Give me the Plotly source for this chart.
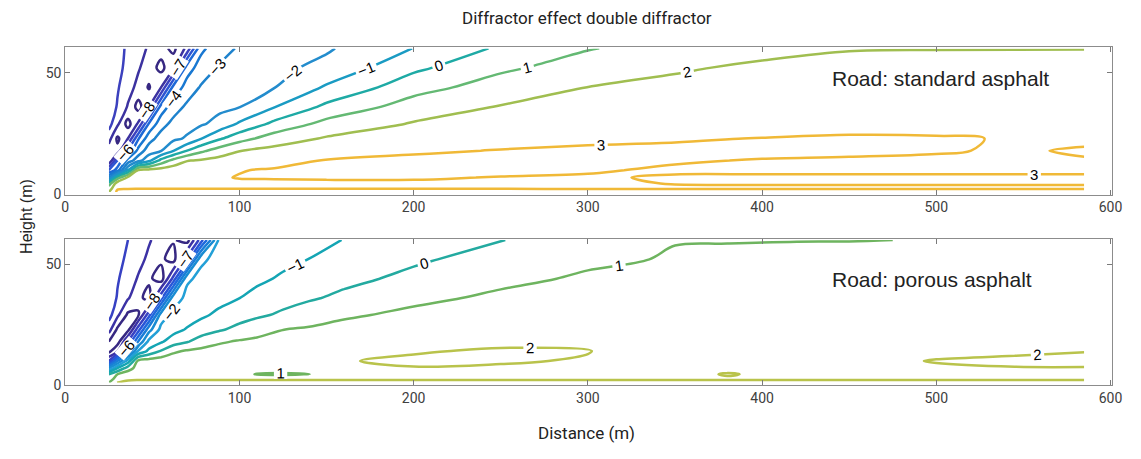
import plotly.graph_objects as go

# ---------------- data ----------------
Y_ROWS = [1, 2.5, 4.5, 7, 10, 14, 18, 23, 29, 36, 44, 52, 60]

# Top panel: Road: standard asphalt
X_TOP = [25, 30, 36, 42, 48, 55, 62, 70, 78, 88, 100, 120, 150, 200, 250, 300, 350, 400, 450, 500, 545, 585]
Z_TOP_1 = [2.0, 3.2] + [3.25] * 20
Z_TOP_2 = [1.5, 2.9, 2.96] + [2.97] * 12 + [2.96] + [2.95] * 6
Z_TOP_3 = [0.5, 2.6, 2.85, 2.9] + [2.92] * 11 + [2.95, 3.01] + [3.02] * 5
Z_TOP_4 = [-3, 0.5, 2.2, 2.4, 2.55, 2.65, 2.72, 2.8, 2.86, 2.96, 3.02, 3.03, 3.05, 3.05, 2.98, 2.95, 3.05, 3.06, 3.06, 3.06, 3.06, 3.06]
Z_TOP_5 = [-6, -4.5, -1, 2.1, 2.3, 2.45, 2.55, 2.65, 2.72, 2.85, 2.98, 3.05, 3.12, 3.15, 3.12, 3.05, 2.93, 2.92, 2.92, 2.92, 2.92, 2.92]
Z_TOP_6 = [-9.0, -6.0, -3.6, -2.39, -1.32, 0.3, 1.3, 1.95, 2.1, 2.3, 2.45, 2.8, 3.03, 3.15, 3.2, 3.2, 3.05, 2.97, 2.93, 2.92, 2.93, 2.97]
Z_TOP_7 = [-8.5, -8.7, -5.8, -3.6, -2.49, -2.05, -1.04, 0.02, 0.78, 1.43, 1.97, 2.3, 2.65, 2.9, 3.03, 3.12, 3.15, 3.15, 3.12, 3.04, 2.95, 3.05]
Z_TOP_8 = [-7.6, -9.2, -8.0, -5.1, -3.4, -2.57, -2.22, -1.87, -1.05, -0.17, 0.62, 1.48, 2.1, 2.55, 2.75, 2.85, 2.93, 3.02, 3.1, 3.08, 2.95, 2.9]
Z_TOP_9 = [-6.6, -7.8, -9.4, -7.8, -4.9, -3.4, -2.7, -2.35, -2.13, -1.69, -0.86, 0.25, 1.32, 2.08, 2.24, 2.35, 2.42, 2.6, 2.7, 2.65, 2.6, 2.55]
Z_TOP_10 = [-6.3, -7.1, -8.1, -9.4, -8.0, -4.6, -3.5, -2.79, -2.49, -2.24, -2.03, -1.04, 0.23, 1.47, 2.05, 2.19, 2.29, 2.36, 2.41, 2.45, 2.48, 2.5]
Z_TOP_11 = [-6.2, -6.9, -7.6, -8.3, -9.1, -8.0, -4.7, -3.6, -2.9, -2.57, -2.31, -2.03, -0.87, 0.61, 1.48, 2.01, 2.13, 2.22, 2.29, 2.35, 2.39, 2.42]
Z_TOP_12 = [-6.1, -6.7, -7.3, -7.9, -8.5, -9.3, -8.2, -4.4, -3.6, -2.91, -2.59, -2.24, -1.74, -0.21, 0.81, 1.48, 1.94, 2.09, 2.18, 2.24, 2.29, 2.33]
Z_TOP_13 = [-6.0, -6.6, -7.2, -7.7, -8.1, -8.6, -9.3, -7.7, -4.2, -3.5, -2.86, -2.46, -2.11, -0.98, 0.16, 0.94, 1.4, 1.85, 1.97, 1.98, 1.98, 1.98]

# Bottom panel: Road: porous asphalt
X_BOT = [25, 30, 36, 42, 48, 55, 62, 70, 78, 88, 100, 110, 125, 140, 160, 200, 250, 300, 350, 380, 420, 450, 500, 545, 585]
Z_BOT_1 = [1.0, 2.05] + [2.15] * 23
Z_BOT_2 = [0.5, 1.5, 1.9] + [1.95] * 22
Z_BOT_3 = [0, 1.0, 1.6, 1.75, 1.8, 1.82, 1.84, 1.85, 1.85, 1.8, 1.3, 0.95, 0.85, 0.97, 1.5, 1.85, 1.85, 1.85, 1.85, 2.03, 1.86, 1.87, 1.9, 1.92, 1.93]
Z_BOT_4 = [-3, -1, 0.5, 1.5, 1.6, 1.65, 1.7, 1.72, 1.72, 1.72, 1.7, 1.65, 1.6, 1.65, 1.8, 1.97, 1.92, 1.85, 1.85, 1.9, 1.88, 1.88, 1.95, 1.98, 1.98]
Z_BOT_5 = [-7.0, -4, -1.5, 1.3, 1.45, 1.55, 1.6, 1.65, 1.68, 1.7, 1.7, 1.7, 1.72, 1.78, 1.97, 2.1, 2.06, 1.95, 1.85, 1.85, 1.86, 1.88, 2.02, 2.08, 2.1]
Z_BOT_6 = [-9.3, -8.0, -5.0, -1.83, -0.74, 0.1, 0.83, 1.14, 1.27, 1.37, 1.45, 1.5, 1.55, 1.6, 1.7, 1.95, 2.08, 2.02, 1.8, 1.8, 1.82, 1.85, 1.9, 1.93, 1.99]
Z_BOT_7 = [-9.0, -9.5, -6.9, -3.9, -1.73, -1.13, -0.5, -0.07, 0.42, 0.87, 1.1, 1.2, 1.3, 1.37, 1.44, 1.55, 1.85, 1.75, 1.68, 1.68, 1.7, 1.7, 1.72, 1.75, 1.8]
Z_BOT_8 = [-7.6, -9.2, -9.3, -6.4, -3.4, -1.72, -1.35, -0.91, -0.48, -0.14, 0.28, 0.62, 0.99, 1.11, 1.22, 1.36, 1.47, 1.53, 1.57, 1.6, 1.62, 1.63, 1.65, 1.66, 1.67]
Z_BOT_9 = [-6.6, -7.8, -9.2, -9.1, -6.4, -2.5, -1.77, -1.48, -1.19, -0.79, -0.4, -0.17, 0.17, 0.54, 0.9, 1.16, 1.31, 1.4, 1.47, 1.5, 1.53, 1.55, 1.58, 1.6, 1.61]
Z_BOT_10 = [-6.3, -7.1, -7.9, -8.7, -9.4, -6.3, -2.4, -1.8, -1.59, -1.33, -1.01, -0.7, -0.36, -0.12, 0.22, 0.84, 1.13, 1.26, 1.34, 1.38, 1.43, 1.46, 1.49, 1.52, 1.54]
Z_BOT_11 = [-6.2, -6.9, -7.5, -8.1, -8.8, -9.5, -6.7, -2.1, -1.85, -1.64, -1.4, -1.2, -0.87, -0.56, -0.26, 0.25, 0.84, 1.09, 1.2, 1.26, 1.31, 1.35, 1.4, 1.43, 1.46]
Z_BOT_12 = [-6.1, -6.7, -7.2, -7.7, -8.2, -8.8, -9.4, -6.6, -2.1, -1.84, -1.64, -1.48, -1.23, -0.99, -0.62, -0.15, 0.39, 0.88, 1.05, 1.13, 1.2, 1.24, 1.31, 1.35, 1.38]
Z_BOT_13 = [-6.0, -6.5, -7.0, -7.5, -7.9, -8.4, -8.9, -9.4, -6.5, -1.97, -1.81, -1.67, -1.47, -1.26, -0.98, -0.43, -0.03, 0.55, 0.98, 0.97, 0.98, 0.98, 1.02, 1.05, 1.08]

LEVELS_TOP = [-9, -8, -7, -6, -5, -4, -3, -2, -1, 0, 1, 2, 3]
COLORS_TOP = ["#372882", "#3c32a0", "#3c41be", "#2d55d2", "#1e69d7", "#1978d2", "#1e82cd",
              "#238ccd", "#1a9bc3", "#1eaaa5", "#64b973", "#a0be50", "#f0b937"]
LEVELS_BOT = [-9, -8, -7, -6, -5, -4, -3, -2, -1, 0, 1, 2]
COLORS_BOT = ["#372882", "#3c32a5", "#3741c3", "#2855d7", "#1e69dc", "#197dd7", "#198cd2",
              "#23a0d7", "#14a5b4", "#23aaa0", "#6eb45f", "#b9c34b"]

TITLE = "Diffractor effect double diffractor"
LABEL_TOP = "Road: standard asphalt"
LABEL_BOT = "Road: porous asphalt"
X_TICKS = [0, 100, 200, 300, 400, 500, 600]
Y_TICKS = [0, 50]

Z_TOP = [Z_TOP_1, Z_TOP_2, Z_TOP_3, Z_TOP_4, Z_TOP_5, Z_TOP_6, Z_TOP_7,
         Z_TOP_8, Z_TOP_9, Z_TOP_10, Z_TOP_11, Z_TOP_12, Z_TOP_13]
Z_BOT = [Z_BOT_1, Z_BOT_2, Z_BOT_3, Z_BOT_4, Z_BOT_5, Z_BOT_6, Z_BOT_7,
         Z_BOT_8, Z_BOT_9, Z_BOT_10, Z_BOT_11, Z_BOT_12, Z_BOT_13]


def scale(levels, colors):
    lo, hi = levels[0], levels[-1]
    return [[(l - lo) / (hi - lo), c] for l, c in zip(levels, colors)]


FONT = "Liberation Sans, Arial, sans-serif"
NARROW = "Liberation Sans Narrow, Roboto, Arial, sans-serif"

W, H = 1141, 459

fig = go.Figure()
for xs, zs, levels, colors, xa, ya in [
    (X_TOP, Z_TOP, LEVELS_TOP, COLORS_TOP, "x", "y"),
    (X_BOT, Z_BOT, LEVELS_BOT, COLORS_BOT, "x2", "y2"),
]:
    fig.add_trace(go.Contour(
        x=xs, y=Y_ROWS, z=zs,
        xaxis=xa, yaxis=ya,
        autocontour=False,
        contours=dict(start=levels[0], end=levels[-1], size=1, coloring="lines",
                      showlabels=True,
                      labelfont=dict(size=15, color="black", family=FONT)),
        colorscale=scale(levels, colors), zmin=levels[0], zmax=levels[-1],
        line=dict(width=2.5, smoothing=1),
        showscale=False, hoverinfo="skip",
    ))


def px_x(px):
    return px / W


def px_y(py):
    return 1 - py / H


XD = [px_x(62), px_x(1122)]
axis_common = dict(showline=True, mirror="ticks", linecolor="#8c8c8c", linewidth=1,
                   ticks="inside", ticklen=5, tickcolor="#7a7a7a", showgrid=False,
                   zeroline=False, tickfont=dict(size=14, color="#404040", family=NARROW))
fig.update_layout(
    width=W, height=H,
    margin=dict(l=0, r=0, t=0, b=0),
    paper_bgcolor="white", plot_bgcolor="white",
    showlegend=False,
    xaxis=dict(domain=XD, range=[0, 601], tickvals=X_TICKS, anchor="y", **axis_common),
    yaxis=dict(domain=[px_y(198), px_y(48)], range=[0, 60.5], tickvals=Y_TICKS, anchor="x", **axis_common),
    xaxis2=dict(domain=XD, range=[0, 601], tickvals=X_TICKS, anchor="y2", **axis_common),
    yaxis2=dict(domain=[px_y(392), px_y(243)], range=[0, 60.5], tickvals=Y_TICKS, anchor="x2", **axis_common),
    annotations=[
        dict(text=TITLE, x=px_x(590), y=px_y(18), xref="paper", yref="paper",
             xanchor="center", yanchor="middle",
             showarrow=False, font=dict(size=17, color="#222222", family=NARROW)),
        dict(text=LABEL_TOP, x=439, y=47.5, xref="x", yref="y", xanchor="left", yanchor="middle",
             showarrow=False, font=dict(size=21, color="#222222", family=FONT)),
        dict(text=LABEL_BOT, x=439, y=43.5, xref="x2", yref="y2", xanchor="left", yanchor="middle",
             showarrow=False, font=dict(size=21, color="#222222", family=FONT)),
        dict(text="Height (m)", x=px_x(22), y=px_y(220), xref="paper", yref="paper",
             xanchor="center", yanchor="middle",
             textangle=-90, showarrow=False, font=dict(size=16, color="#222222", family=FONT)),
        dict(text="Distance (m)", x=px_x(590), y=px_y(441), xref="paper", yref="paper",
             xanchor="center", yanchor="middle",
             showarrow=False, font=dict(size=17, color="#222222", family=NARROW)),
    ],
)

# remove the default page margin so the figure sits at the window's top-left corner
fig.write_html("out.html", config={"displayModeBar": False},
               post_script="document.body.style.margin='0px';")
